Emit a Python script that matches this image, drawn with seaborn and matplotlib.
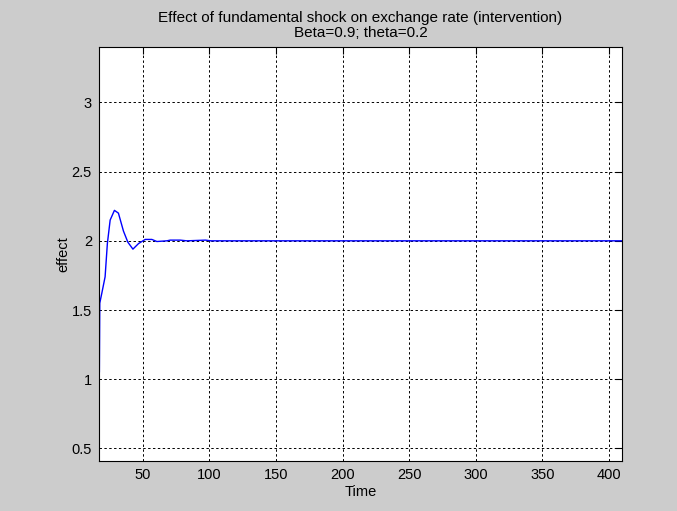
import numpy as np
import pandas as pd
import matplotlib
matplotlib.use("Agg")
import matplotlib.pyplot as plt
import seaborn as sns
from matplotlib.ticker import FuncFormatter

# values
time = [17.3, 17.6, 19.1, 21.6, 23.3, 25.4, 28.6, 31.6, 35.4, 38.7, 42.5,
        46.7, 51.7, 56.7, 60.5, 68.0, 70.5, 78.0, 83.0, 97.0, 101.0, 410.0]
effect = [1.05, 1.55, 1.62, 1.74, 1.98, 2.15, 2.22, 2.20, 2.07, 1.99, 1.94,
          1.98, 2.01, 2.01, 1.995, 2.0, 2.005, 2.005, 2.0, 2.005, 2.0, 2.0]
x_ticks = [50, 100, 150, 200, 250, 300, 350, 400]
y_ticks = [0.5, 1, 1.5, 2, 2.5, 3]

df = pd.DataFrame({"Time": time, "effect": effect})

sns.set_style("white")
plt.rcParams["font.family"] = ["Liberation Sans", "DejaVu Sans"]
plt.rcParams["text.color"] = "black"
plt.rcParams["axes.labelcolor"] = "black"

fig = plt.figure(figsize=(6.77, 5.11), dpi=100, facecolor="#cccccc")
ax = fig.add_axes([0.146, 0.098, 0.773, 0.810])
ax.set_facecolor("white")

sns.lineplot(data=df, x="Time", y="effect", color="#0000ff", linewidth=1.0,
             ax=ax, sort=False)

ax.set_xlim(16.9, 410)
ax.set_ylim(0.41, 3.4)
ax.set_xticks(x_ticks)
ax.set_yticks(y_ticks)
ax.yaxis.set_major_formatter(FuncFormatter(lambda v, p: "%g" % v))

ax.grid(True, color="black", linestyle=(0, (2.5, 2.5)), linewidth=0.7)
ax.tick_params(direction="in", length=5, width=0.8, top=True, right=True,
               labelsize=10.5, colors="black", pad=5)
for s in ax.spines.values():
    s.set_color("black")
    s.set_linewidth(0.8)

ax.set_xlabel("Time", fontsize=10.5, labelpad=2)
ax.set_ylabel("effect", fontsize=10.5, labelpad=1)
ax.set_title("Effect of fundamental shock on exchange rate (intervention)\n"
             "Beta=0.9; theta=0.2", fontsize=11, linespacing=1.1, pad=7)

fig.savefig("out.png", dpi=100, facecolor=fig.get_facecolor())
